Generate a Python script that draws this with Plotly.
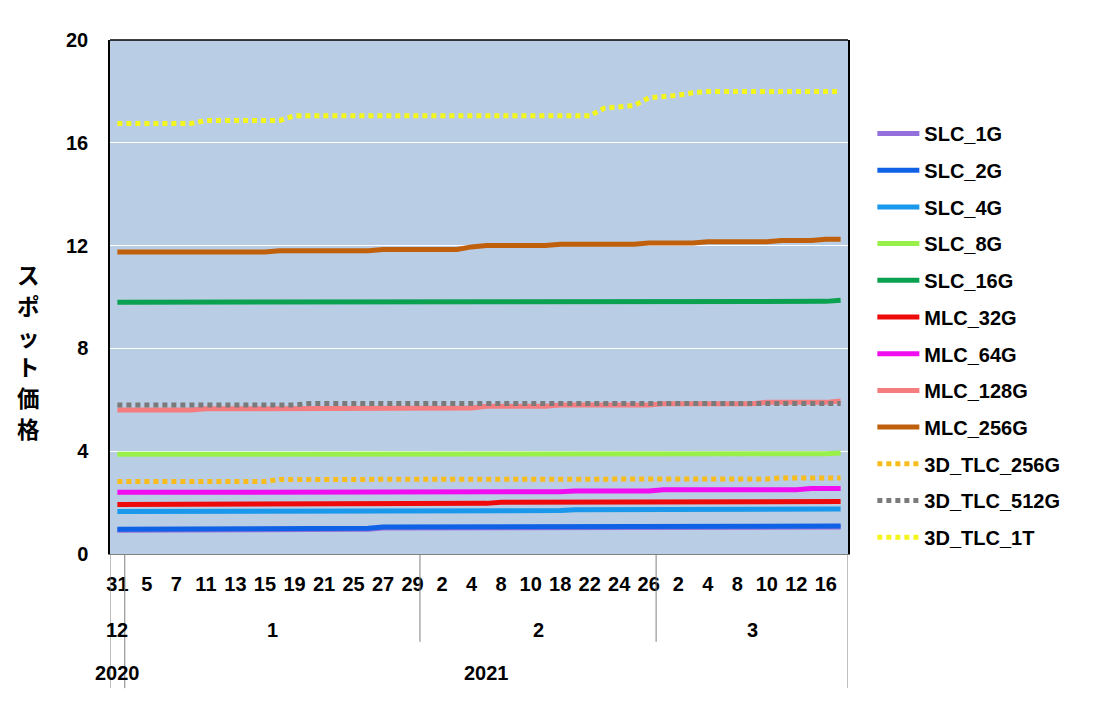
import plotly.graph_objects as go

# x categories: trading days (Dec 2020 - Mar 2021)
dates = ["2020-12-31",
         "2021-01-04", "2021-01-05", "2021-01-06", "2021-01-07", "2021-01-08",
         "2021-01-11", "2021-01-12", "2021-01-13", "2021-01-14", "2021-01-15",
         "2021-01-18", "2021-01-19", "2021-01-20", "2021-01-21", "2021-01-22",
         "2021-01-25", "2021-01-26", "2021-01-27", "2021-01-28", "2021-01-29",
         "2021-02-01", "2021-02-02", "2021-02-03", "2021-02-04", "2021-02-05",
         "2021-02-08", "2021-02-09", "2021-02-10", "2021-02-17", "2021-02-18",
         "2021-02-19", "2021-02-22", "2021-02-23", "2021-02-24", "2021-02-25",
         "2021-02-26",
         "2021-03-01", "2021-03-02", "2021-03-03", "2021-03-04", "2021-03-05",
         "2021-03-08", "2021-03-09", "2021-03-10", "2021-03-11", "2021-03-12",
         "2021-03-15", "2021-03-16", "2021-03-17"]

slc_1g = [0.92, 0.92, 0.92, 0.92, 0.92, 0.92, 0.92, 0.96, 0.96, 0.96,
          0.96, 0.96, 0.96, 0.96, 0.96, 0.96, 0.96, 0.96, 1.01, 1.01,
          1.01, 1.01, 1.01, 1.01, 1.01, 1.01, 1.01, 1.01, 1.01, 1.01,
          1.01, 1.01, 1.01, 1.01, 1.01, 1.01, 1.05, 1.05, 1.05, 1.05,
          1.05, 1.05, 1.05, 1.05, 1.05, 1.05, 1.05, 1.05, 1.05, 1.05]
slc_2g = [0.96, 0.96, 0.96, 0.96, 0.96, 0.96, 0.96, 1.00, 1.00, 1.00,
          1.00, 1.00, 1.00, 1.00, 1.00, 1.00, 1.00, 1.00, 1.05, 1.05,
          1.05, 1.05, 1.05, 1.05, 1.05, 1.05, 1.05, 1.05, 1.05, 1.05,
          1.05, 1.05, 1.05, 1.05, 1.05, 1.05, 1.09, 1.09, 1.09, 1.09,
          1.09, 1.09, 1.09, 1.09, 1.09, 1.09, 1.09, 1.09, 1.09, 1.09]
slc_4g = [1.65, 1.65, 1.65, 1.65, 1.65, 1.65, 1.65, 1.65, 1.65, 1.65,
          1.65, 1.65, 1.65, 1.69, 1.69, 1.69, 1.69, 1.69, 1.69, 1.69,
          1.69, 1.69, 1.69, 1.69, 1.69, 1.69, 1.69, 1.69, 1.69, 1.69,
          1.69, 1.72, 1.72, 1.72, 1.72, 1.72, 1.72, 1.72, 1.72, 1.72,
          1.72, 1.72, 1.72, 1.72, 1.72, 1.72, 1.75, 1.75, 1.75, 1.75]
slc_8g = [3.88, 3.88, 3.88, 3.88, 3.88, 3.88, 3.88, 3.88, 3.88, 3.88,
          3.88, 3.88, 3.88, 3.88, 3.88, 3.88, 3.88, 3.88, 3.88, 3.88,
          3.88, 3.88, 3.88, 3.88, 3.88, 3.88, 3.88, 3.88, 3.88, 3.88,
          3.90, 3.90, 3.90, 3.90, 3.90, 3.90, 3.90, 3.90, 3.90, 3.90,
          3.90, 3.90, 3.90, 3.90, 3.90, 3.90, 3.90, 3.90, 3.90, 3.93]
slc_16g = [9.80, 9.80, 9.80, 9.80, 9.80, 9.80, 9.80, 9.80, 9.80, 9.80,
           9.80, 9.80, 9.80, 9.80, 9.80, 9.80, 9.80, 9.80, 9.80, 9.80,
           9.80, 9.80, 9.80, 9.80, 9.80, 9.80, 9.80, 9.80, 9.80, 9.80,
           9.80, 9.80, 9.80, 9.80, 9.80, 9.80, 9.80, 9.80, 9.80, 9.80,
           9.80, 9.83, 9.83, 9.83, 9.83, 9.83, 9.83, 9.83, 9.83, 9.87]
mlc_32g = [1.93, 1.93, 1.93, 1.93, 1.93, 1.93, 1.93, 1.93, 1.93, 1.97,
           1.97, 1.97, 1.97, 1.97, 1.97, 1.97, 1.97, 1.97, 1.97, 1.97,
           1.97, 1.97, 1.97, 1.97, 1.97, 1.97, 2.01, 2.01, 2.01, 2.01,
           2.01, 2.01, 2.01, 2.01, 2.01, 2.01, 2.01, 2.01, 2.01, 2.01,
           2.01, 2.01, 2.01, 2.01, 2.01, 2.01, 2.04, 2.04, 2.04, 2.04]
mlc_64g = [2.40, 2.40, 2.40, 2.40, 2.40, 2.40, 2.40, 2.40, 2.40, 2.40,
           2.40, 2.40, 2.40, 2.42, 2.42, 2.42, 2.42, 2.42, 2.42, 2.42,
           2.42, 2.42, 2.42, 2.42, 2.42, 2.42, 2.42, 2.42, 2.42, 2.42,
           2.42, 2.45, 2.45, 2.45, 2.45, 2.45, 2.45, 2.50, 2.50, 2.50,
           2.50, 2.50, 2.50, 2.50, 2.50, 2.50, 2.50, 2.55, 2.55, 2.55]
mlc_128g = [5.60, 5.60, 5.60, 5.60, 5.60, 5.60, 5.65, 5.65, 5.65, 5.65,
            5.65, 5.65, 5.65, 5.65, 5.65, 5.65, 5.65, 5.68, 5.68, 5.68,
            5.68, 5.68, 5.68, 5.68, 5.68, 5.75, 5.75, 5.75, 5.75, 5.75,
            5.80, 5.80, 5.80, 5.80, 5.80, 5.80, 5.80, 5.85, 5.85, 5.85,
            5.85, 5.85, 5.85, 5.85, 5.90, 5.90, 5.90, 5.90, 5.90, 5.95]
mlc_256g = [11.75, 11.75, 11.75, 11.75, 11.75, 11.75, 11.75, 11.75, 11.75, 11.75,
            11.75, 11.80, 11.80, 11.80, 11.80, 11.80, 11.80, 11.80, 11.85, 11.85,
            11.85, 11.85, 11.85, 11.85, 11.95, 12.00, 12.00, 12.00, 12.00, 12.00,
            12.05, 12.05, 12.05, 12.05, 12.05, 12.05, 12.10, 12.10, 12.10, 12.10,
            12.15, 12.15, 12.15, 12.15, 12.15, 12.20, 12.20, 12.20, 12.25, 12.25]
tlc_256g = [2.82, 2.82, 2.82, 2.82, 2.82, 2.82, 2.82, 2.82, 2.82, 2.82,
            2.82, 2.90, 2.90, 2.90, 2.90, 2.90, 2.90, 2.90, 2.90, 2.90,
            2.90, 2.90, 2.90, 2.90, 2.90, 2.90, 2.90, 2.90, 2.90, 2.90,
            2.92, 2.92, 2.92, 2.92, 2.92, 2.92, 2.92, 2.92, 2.92, 2.92,
            2.92, 2.92, 2.92, 2.92, 2.92, 2.96, 2.96, 2.96, 2.96, 2.96]
tlc_512g = [5.80, 5.80, 5.80, 5.80, 5.80, 5.80, 5.80, 5.80, 5.80, 5.80,
            5.80, 5.80, 5.80, 5.86, 5.86, 5.86, 5.86, 5.86, 5.86, 5.86,
            5.86, 5.86, 5.86, 5.86, 5.86, 5.86, 5.86, 5.86, 5.86, 5.86,
            5.86, 5.86, 5.86, 5.86, 5.86, 5.86, 5.86, 5.86, 5.86, 5.86,
            5.86, 5.86, 5.86, 5.86, 5.86, 5.86, 5.86, 5.86, 5.86, 5.86]
tlc_1t = [16.75, 16.75, 16.75, 16.75, 16.75, 16.75, 16.87, 16.87, 16.87, 16.87,
          16.87, 16.87, 17.05, 17.05, 17.05, 17.05, 17.05, 17.05, 17.05, 17.05,
          17.05, 17.05, 17.05, 17.05, 17.05, 17.05, 17.05, 17.05, 17.05, 17.05,
          17.05, 17.05, 17.05, 17.35, 17.40, 17.45, 17.75, 17.80, 17.85, 17.95,
          18.00, 18.00, 18.00, 18.00, 18.00, 18.00, 18.00, 18.00, 18.00, 18.00]

series = [
    ("SLC_1G", slc_1g, "#9370DB", "solid"),
    ("SLC_2G", slc_2g, "#0F62E6", "solid"),
    ("SLC_4G", slc_4g, "#1A98EC", "solid"),
    ("SLC_8G", slc_8g, "#99F04A", "solid"),
    ("SLC_16G", slc_16g, "#0AA150", "solid"),
    ("MLC_32G", mlc_32g, "#EE0A0A", "solid"),
    ("MLC_64G", mlc_64g, "#F00EF0", "solid"),
    ("MLC_128G", mlc_128g, "#F57D80", "solid"),
    ("MLC_256G", mlc_256g, "#C0600C", "solid"),
    ("3D_TLC_256G", tlc_256g, "#F8BC1C", "5px,4px"),
    ("3D_TLC_512G", tlc_512g, "#7A7A7A", "5px,4px"),
    ("3D_TLC_1T", tlc_1t, "#F5F51E", "5px,4px"),
]

ytitle = "スポット価格"

font = "Liberation Sans, Arial, sans-serif"
bold = dict(size=20, family=font, color="black", weight="bold")

fig = go.Figure()
for name, vals, color, dash in series:
    fig.add_trace(go.Scatter(x=dates, y=vals, mode="lines", name=name, legendgroup=name,
                             line=dict(color=color, width=5, dash=dash)))

# tick labels: every other day
day_labels = [str(int(d[8:])) for d in dates]
tickvals = dates[::2]
ticktext = day_labels[::2]

# month / year groups along the category axis
months = [d[:7] for d in dates]
years = [d[:4] for d in dates]

def groups(keys):
    out = []
    start = 0
    for i in range(1, len(keys) + 1):
        if i == len(keys) or keys[i] != keys[start]:
            out.append((keys[start], start, i - 1))
            start = i
    return out

annots = []
shapes = []
for key, a, b in groups(months):
    annots.append(dict(x=(a + b) / 2, y=-0.148, xref="x", yref="paper", yanchor="middle",
                       text=str(int(key[5:])), showarrow=False, font=bold))
for key, a, b in groups(years):
    annots.append(dict(x=(a + b) / 2, y=-0.2315, xref="x", yref="paper", yanchor="middle",
                       text=key, showarrow=False, font=bold))

# divider lines under the axis
month_bounds = [b + 0.5 for _, a, b in groups(months)][:-1]
year_bounds = [b + 0.5 for _, a, b in groups(years)][:-1]
for xb in [-0.5, len(dates) - 0.5] + year_bounds:
    shapes.append(dict(type="line", xref="x", yref="paper", x0=xb, x1=xb, y0=0, y1=-0.261,
                       line=dict(color="#808080", width=1)))
for xb in month_bounds:
    if xb in year_bounds:
        continue
    shapes.append(dict(type="line", xref="x", yref="paper", x0=xb, x1=xb, y0=0, y1=-0.171,
                       line=dict(color="#808080", width=1)))
# top border of plot area
shapes.append(dict(type="line", xref="paper", yref="paper", x0=0, x1=1, y0=1, y1=1,
                   line=dict(color="black", width=1.5)))

# y-axis title, one character per row (vertical writing)
for i, ch in enumerate(ytitle):
    annots.append(dict(x=-0.111, y=(554 - 274 - 30.8 * i) / 514, xref="paper", yref="paper",
                       xanchor="center", yanchor="middle", text=ch, showarrow=False,
                       font=dict(size=22.5, family="Noto Sans CJK JP", color="black", weight="bold")))

fig.update_layout(
    width=1083, height=693,
    margin=dict(l=102, r=243, t=32, b=147),
    paper_bgcolor="white",
    plot_bgcolor="#B9CDE5",
    showlegend=True,
    legend=dict(x=1.033, y=0.856, xanchor="left", yanchor="top", traceorder="grouped",
                tracegroupgap=7.7, bgcolor="rgba(0,0,0,0)", itemwidth=42, font=bold),
    xaxis=dict(type="category", tickvals=tickvals, ticktext=ticktext, showgrid=False,
               showline=True, linecolor="#808080", linewidth=1, ticks="",
               ticklabelstandoff=12, range=[-0.5, len(dates) - 0.5], tickfont=bold),
    yaxis=dict(range=[0, 20], dtick=4, showgrid=True, gridcolor="white", gridwidth=1,
               showline=True, linecolor="black", linewidth=1.5, mirror=True, ticks="",
               zeroline=False, ticklabelstandoff=16, tickfont=bold),
    annotations=annots,
    shapes=shapes,
)

fig.write_html("out.html")
